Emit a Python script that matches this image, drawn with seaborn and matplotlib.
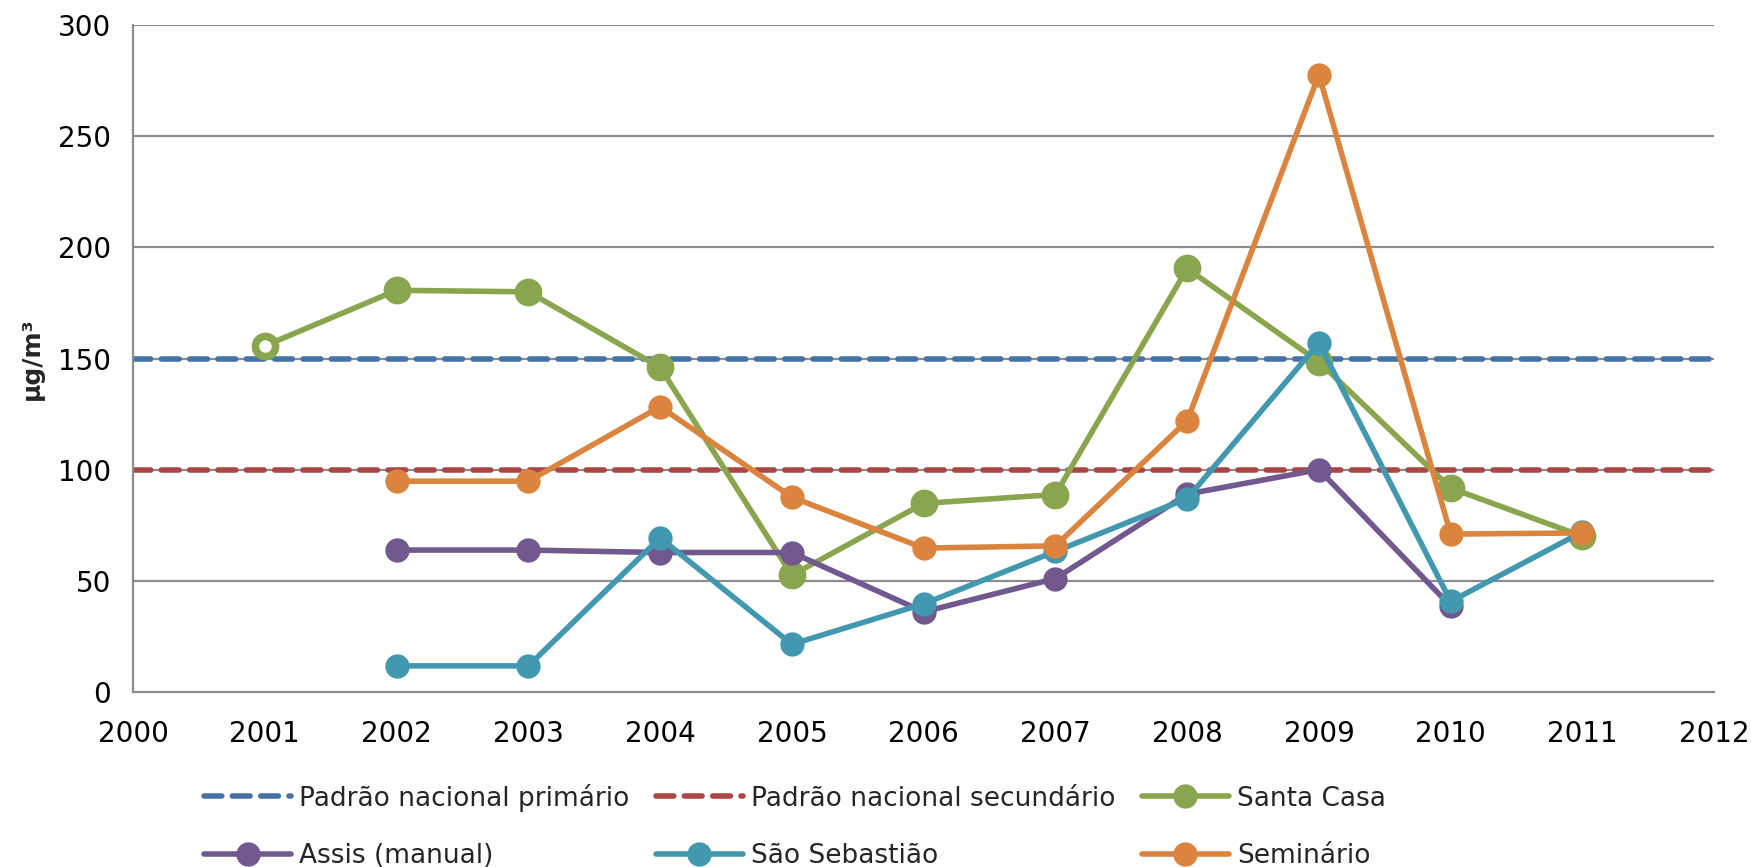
import numpy as np
import pandas as pd
import matplotlib
matplotlib.use("Agg")
import matplotlib.pyplot as plt
import seaborn as sns
from matplotlib.lines import Line2D

years = [2001, 2002, 2003, 2004, 2005, 2006, 2007, 2008, 2009, 2010, 2011]
santa_casa = [155.7, 180.7, 180.0, 146.0, 52.5, 84.8, 88.8, 190.5, 148.5, 91.7, 70.0]
assis = [np.nan, 63.8, 63.8, 62.7, 62.7, 36.0, 51.0, 89.0, 100.0, 38.6, np.nan]
sao_sebastiao = [np.nan, 11.7, 11.7, 69.3, 21.4, 39.6, 63.2, 87.0, 157.0, 40.7, 72.0]
seminario = [np.nan, 94.8, 94.8, 128.3, 87.6, 64.7, 65.7, 122.0, 277.7, 71.0, 71.5]
ref_x = [2000, 2012]
primario = [150, 150]
secundario = [100, 100]

series_names = ["Santa Casa", "Assis (manual)", "São Sebastião", "Seminário"]
ref_names = ["Padrão nacional primário", "Padrão nacional secundário"]
x_ticks = list(range(2000, 2013))
y_ticks = [0, 50, 100, 150, 200, 250, 300]

c_blue = "#4572A7"
c_red = "#AA4643"
c_green = "#89A54E"
c_purple = "#71588F"
c_teal = "#4198AF"
c_orange = "#DB843D"

sns.set_style("white")
plt.rcParams["font.family"] = ["DejaVu Sans"]

fig = plt.figure(figsize=(17.51, 8.67), dpi=100)
ax = fig.add_axes([0.076, 0.202, 0.903, 0.769])

for yv in y_ticks[1:]:
    ax.axhline(yv, color="#8c8c8c", lw=1.6, zorder=0)

lw = 4.0
dsh = (3.2, 1.9)
dash_kw = dict(linewidth=lw, dashes=dsh, dash_capstyle="round")
sns.lineplot(x=ref_x, y=primario, ax=ax, color=c_blue, **dash_kw)
sns.lineplot(x=ref_x, y=secundario, ax=ax, color=c_red, **dash_kw)

def draw(vals, color, ms):
    df = pd.DataFrame({"x": years, "y": vals}).dropna()
    sns.lineplot(data=df, x="x", y="y", ax=ax, color=color, linewidth=lw,
                 marker="o", markersize=ms, markeredgewidth=0, markeredgecolor=color)

draw(santa_casa, c_green, 20)
# open marker at the first Santa Casa point
sns.scatterplot(x=[years[0]], y=[santa_casa[0]], ax=ax, s=170, facecolor="white",
                edgecolor=c_green, linewidth=4, zorder=5)
draw(assis, c_purple, 17.5)
draw(sao_sebastiao, c_teal, 17.5)
draw(seminario, c_orange, 17.5)

ax.set_xlim(2000, 2012)
ax.set_ylim(0, 300)
ax.set_xticks(x_ticks)
ax.set_yticks(y_ticks)
ax.tick_params(axis="both", labelsize=20, colors="#8c8c8c", labelcolor="black",
               length=8, width=1.6, direction="out")
ax.tick_params(axis="x", pad=12)
ax.tick_params(axis="y", pad=8)
for s in ["top", "right"]:
    ax.spines[s].set_visible(False)
for s in ["left", "bottom"]:
    ax.spines[s].set_color("#8c8c8c")
    ax.spines[s].set_linewidth(1.6)
ax.set_xlabel("")
ax.set_ylabel("µg/m³", fontsize=18, fontweight="bold", labelpad=10)

handles = [
    Line2D([], [], color=c_blue, lw=lw, dashes=dsh, dash_capstyle="round"),
    Line2D([], [], color=c_purple, lw=lw, marker="o", markersize=17.5, markeredgewidth=0),
    Line2D([], [], color=c_red, lw=lw, dashes=dsh, dash_capstyle="round"),
    Line2D([], [], color=c_teal, lw=lw, marker="o", markersize=17.5, markeredgewidth=0),
    Line2D([], [], color=c_green, lw=lw, marker="o", markersize=17.5, markeredgewidth=0),
    Line2D([], [], color=c_orange, lw=lw, marker="o", markersize=17.5, markeredgewidth=0),
]
labels = [ref_names[0], series_names[1], ref_names[1], series_names[2],
          series_names[0], series_names[3]]
fig.legend(handles, labels, ncol=3, loc="lower left", bbox_to_anchor=(0.103, -0.03),
           frameon=False, fontsize=19, handlelength=3.3, handletextpad=0.3,
           columnspacing=1.0, labelspacing=1.2)

fig.savefig("out.png", dpi=100)
